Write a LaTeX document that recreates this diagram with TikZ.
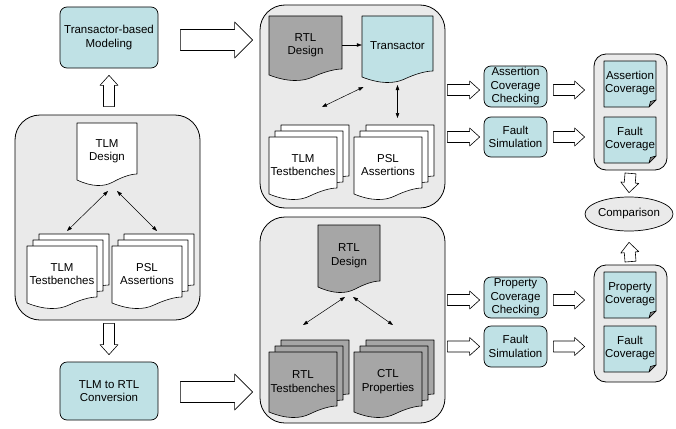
\documentclass[tikz,border=0pt]{standalone}
\usepackage{fontspec}
\setmainfont{Liberation Sans}
\usetikzlibrary{calc,shapes.geometric,arrows.meta}

\definecolor{procfill}{RGB}{191,225,229}
\definecolor{groupfill}{RGB}{234,234,234}
\definecolor{rtlfill}{RGB}{166,166,166}

% page with a wavy lower edge: fill, x, y, width, height
\newcommand{\docpage}[5]{%
  \draw[page, fill=#1] (#2,#3) -- (#2+#4,#3) -- (#2+#4,#3+#5-11)
    .. controls (#2+0.9*#4,#3+#5-11) and (#2+0.75*#4,#3+#5-8) .. (#2+0.6*#4,#3+#5-3)
    .. controls (#2+0.45*#4,#3+#5+2) and (#2+0.25*#4,#3+#5+2) .. (#2,#3+#5-5) -- cycle;}

% one named page with text: name, fill, x, y, width, height, text
\newcommand{\docnode}[7]{%
  \docpage{#2}{#3}{#4}{#5}{#6}
  \node[doctext, minimum width=#5pt] (#1) at (#3+0.5*#5,#4+0.5*#6-3) {#7};
  \coordinate (#1-b) at (#3+0.5*#5,#4+#6+6);}

% three pages on top of each other
\newcommand{\docstack}[7]{%
  \docpage{#2}{#3+12}{#4-12}{#5}{#6}
  \docpage{#2}{#3+6}{#4-6}{#5}{#6}
  \docnode{#1}{#2}{#3}{#4}{#5}{#6}{#7}
  \coordinate (#1-top) at (#3+12+0.5*#5,#4-12);}

% report sheet with folded corner: name, x, y, text
\newcommand{\notebox}[4]{%
  \draw[page, fill=procfill] (#2,#3) -- (#2+52,#3) -- (#2+52,#3+39) -- (#2+45,#3+46) -- (#2,#3+46) -- cycle;
  \draw[page, fill=black!50] (#2+52,#3+39) -- (#2+46.5,#3+40.5) -- (#2+45,#3+46) -- cycle;
  \node[doctext] (#1) at (#2+26,#3+22) {#4};}

% hollow block arrow: from, to, half shaft, half head, head length
\newcommand{\blockarrow}[5]{%
  \draw[hollow] let \p1=#1, \p2=#2, \n1={atan2(\y2-\y1,\x2-\x1)}, \n2={veclen(\x2-\x1,\y2-\y1)} in
    [shift={(\p1)}, rotate=\n1] (0pt,-#3pt) -- (\n2-#5pt,-#3pt) -- (\n2-#5pt,-#4pt) -- (\n2,0pt)
    -- (\n2-#5pt,#4pt) -- (\n2-#5pt,#3pt) -- (0pt,#3pt) -- cycle;}
\newcommand{\bigarrow}[2]{\blockarrow{#1}{#2}{10.5}{18}{18}}
\newcommand{\smallarrow}[2]{\blockarrow{#1}{#2}{5.5}{9}{10}}

\begin{document}
\begin{tikzpicture}[x=1pt, y=-1pt, line join=round,
    font=\fontsize{11.5}{13.5}\selectfont,
    group/.style={draw, line width=0.8pt, fill=groupfill, rounded corners=25pt, inner sep=0pt},
    cover/.style={draw, line width=0.8pt, fill=groupfill, rounded corners=12pt, inner sep=0pt,
      minimum width=73pt},
    proc/.style={draw, line width=0.7pt, fill=procfill, rounded corners=7pt, align=center, inner sep=0pt},
    page/.style={draw, line width=0.6pt},
    doctext/.style={align=center, inner sep=0pt, minimum height=20pt},
    hollow/.style={draw, line width=0.6pt, fill=white},
    link/.style={line width=0.5pt, {Triangle[length=5pt,width=3.5pt]}-{Triangle[length=5pt,width=3.5pt]}},
    feed/.style={line width=0.5pt, -{Triangle[length=5pt,width=3.5pt]}}]

  \useasboundingbox (0,0) rectangle (676,428);

  % grey containers
  \node[group, minimum width=185pt, minimum height=205pt] (tlmbox) at (107.5,217.5) {};
  \node[group, minimum width=185pt, minimum height=203pt] (upperbox) at (352.5,106.5) {};
  \node[group, minimum width=185pt, minimum height=206pt] (lowerbox) at (352.5,320) {};
  \node[cover, minimum height=116pt] (covA) at (630.5,112) {};
  \node[cover, minimum height=117pt] (covB) at (630.5,323.5) {};

  % TLM level
  \docnode{tlmd}{white}{77}{123}{60}{62}{TLM\\Design}
  \docstack{tlmtb}{white}{27}{246}{70}{62}{TLM\\Testbenches}
  \docstack{psl}{white}{112}{246}{70}{62}{PSL\\Assertions}

  % RTL with transactor
  \docnode{rtld1}{rtlfill}{269}{16}{73}{64}{RTL\\Design}
  \docnode{trans}{procfill}{362}{16}{71}{66}{Transactor}
  \docstack{tlmtb2}{white}{269}{137}{68}{62}{TLM\\Testbenches}
  \docstack{psl2}{white}{354}{137}{68}{62}{PSL\\Assertions}

  % converted RTL
  \docnode{rtld2}{rtlfill}{318}{225}{62}{67}{RTL\\Design}
  \docstack{rtltb}{rtlfill}{269}{352}{68}{65}{RTL\\Testbenches}
  \docstack{ctl}{rtlfill}{354}{352}{68}{65}{CTL\\Properties}

  % flow steps
  \node[proc, minimum width=98pt, minimum height=61pt] (tbm) at (109,37.5) {Transactor-based\\Modeling};
  \node[proc, minimum width=98pt, minimum height=58pt] (conv) at (109,391) {TLM to RTL\\Conversion};
  \node[proc, minimum width=63pt, minimum height=41pt] (acc) at (515.5,86.5) {Assertion\\Coverage\\Checking};
  \node[proc, minimum width=63pt, minimum height=40pt] (fs1) at (515.5,137) {Fault\\Simulation};
  \node[proc, minimum width=63pt, minimum height=41pt] (pcc) at (515.5,297.5) {Property\\Coverage\\Checking};
  \node[proc, minimum width=63pt, minimum height=41pt] (fs2) at (515.5,346.5) {Fault\\Simulation};

  % results
  \notebox{acov}{604}{61}{Assertion\\Coverage}
  \notebox{fcov1}{604}{117}{Fault\\Coverage}
  \notebox{pcov}{604}{272}{Property\\Coverage}
  \notebox{fcov2}{604}{326}{Fault\\Coverage}
  \node[ellipse, draw, line width=0.7pt, fill=groupfill, minimum width=88pt, minimum height=34pt,
    inner sep=0pt] (cmp) at (629,214) {Comparison};

  % thin links
  \draw[link] ($(tlmd-b)+(1,0)$) -- ($(tlmtb-top)+(-7,-3)$);
  \draw[link] ($(tlmd-b)+(10,0)$) -- ($(psl-top)+(-2,-3)$);
  \draw[feed] (rtld1.east) -- (rtld1.east -| trans.west);
  \draw[link] ($(trans-b)+(-34,-1)$) -- ($(tlmtb2-top)+(7,-18)$);
  \draw[link] ($(trans-b)+(0,-3)$) -- ($(trans-b |- psl2-top)+(0,-7)$);
  \draw[link] ($(rtld2-b)+(-4,-1)$) -- ($(rtltb-top)+(-12,-15)$);
  \draw[link] ($(rtld2-b)+(4,-1)$) -- ($(ctl-top)+(-7,-15)$);

  % block arrows
  \bigarrow{($(tbm.east)+(22,2.5)$)}{($(tbm.east -| upperbox.west)+(-7,2.5)$)}
  \bigarrow{($(conv.east)+(22,1)$)}{($(conv.east -| lowerbox.west)+(-7,1)$)}
  \smallarrow{($(tlmbox.north -| tbm.south)+(0,-8)$)}{($(tbm.south)+(0,7)$)}
  \smallarrow{($(tlmbox.south -| conv.north)+(0,3)$)}{($(conv.north)+(0,-7)$)}
  \smallarrow{($(acc.west -| upperbox.east)+(2,3.5)$)}{($(acc.west)+(-4,3.5)$)}
  \smallarrow{($(fs1.west -| upperbox.east)+(2,0)$)}{($(fs1.west)+(-4,0)$)}
  \smallarrow{($(pcc.west -| lowerbox.east)+(2,2.5)$)}{($(pcc.west)+(-4,2.5)$)}
  \smallarrow{($(fs2.west -| lowerbox.east)+(2,0)$)}{($(fs2.west)+(-4,0)$)}
  \smallarrow{($(acc.east)+(6,3.5)$)}{($(acc.east -| covA.west)+(-9,3.5)$)}
  \smallarrow{($(fs1.east)+(6,0)$)}{($(fs1.east -| covA.west)+(-9,0)$)}
  \smallarrow{($(pcc.east)+(6,2.5)$)}{($(pcc.east -| covB.west)+(-9,2.5)$)}
  \smallarrow{($(fs2.east)+(6,0)$)}{($(fs2.east -| covB.west)+(-9,0)$)}
  \smallarrow{($(covA.south)+(0,3)$)}{($(cmp.north)+(0,-4)$)}
  \smallarrow{($(covB.north)+(0,-3)$)}{($(cmp.south)+(0,11)$)}
\end{tikzpicture}
\end{document}
